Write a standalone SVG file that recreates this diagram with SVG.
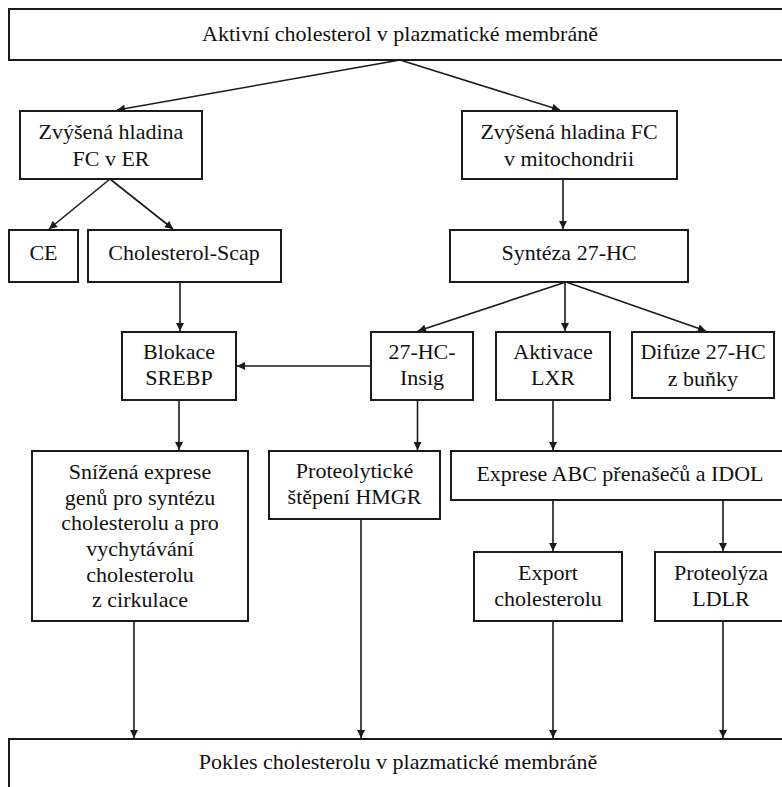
<svg xmlns="http://www.w3.org/2000/svg" width="782" height="787" viewBox="0 0 782 787">
<style>
  .box { fill: #ffffff; stroke: #1a1a1a; stroke-width: 2; }
  .t { font-family: 'Liberation Serif', 'Tinos', 'DejaVu Serif', serif; font-size: 22px; fill: #111; text-anchor: middle; }
  .c { stroke: #1a1a1a; stroke-width: 1.6; fill: none; marker-end: url(#ah); }
</style>
<defs>
  <marker id="ah" viewBox="0 0 10 10" refX="10" refY="5" markerWidth="9" markerHeight="8" markerUnits="userSpaceOnUse" orient="auto">
    <path d="M0,0 L10,5 L0,10 z" fill="#1a1a1a"/>
  </marker>
</defs>
<rect width="782" height="787" fill="#ffffff"/>
<g id="connectors">
  <line class="c" x1="400" y1="60" x2="117" y2="110"/>
  <line class="c" x1="400" y1="60" x2="560" y2="110"/>
  <line class="c" x1="110" y1="179" x2="49" y2="229"/>
  <line class="c" x1="110" y1="179" x2="173" y2="229"/>
  <line class="c" x1="563" y1="179" x2="563" y2="229"/>
  <line class="c" x1="180" y1="282" x2="180" y2="331"/>
  <line class="c" x1="566" y1="282" x2="418" y2="331"/>
  <line class="c" x1="565" y1="282" x2="565" y2="331"/>
  <line class="c" x1="566" y1="282" x2="706" y2="331"/>
  <line class="c" x1="371" y1="366" x2="237" y2="366"/>
  <line class="c" x1="179" y1="400" x2="179" y2="450"/>
  <line class="c" x1="417.5" y1="400" x2="417.5" y2="450"/>
  <line class="c" x1="553" y1="400" x2="553" y2="450"/>
  <line class="c" x1="553" y1="500" x2="553" y2="551"/>
  <line class="c" x1="723" y1="500" x2="723" y2="551"/>
  <line class="c" x1="134" y1="621" x2="134" y2="738"/>
  <line class="c" x1="361" y1="519" x2="361" y2="738"/>
  <line class="c" x1="553" y1="621" x2="553" y2="738"/>
  <line class="c" x1="723" y1="621" x2="723" y2="738"/>
</g>
<g id="n-top">
  <rect class="box" x="9" y="9" width="800" height="51"/>
  <text class="t" x="400" y="41" font-family="Liberation Serif, serif">Aktivní cholesterol v plazmatické membráně</text>
</g>
<g id="n-fcer">
  <rect class="box" x="20" y="111" width="182" height="68"/>
  <text class="t" x="111" y="139">Zvýšená hladina</text>
  <text class="t" x="111" y="166">FC v ER</text>
</g>
<g id="n-fcmito">
  <rect class="box" x="462" y="111" width="215" height="68"/>
  <text class="t" x="569" y="139">Zvýšená hladina FC</text>
  <text class="t" x="569" y="166">v mitochondrii</text>
</g>
<g id="n-ce">
  <rect class="box" x="9" y="230" width="69" height="52"/>
  <text class="t" x="43.5" y="260">CE</text>
</g>
<g id="n-scap">
  <rect class="box" x="88" y="230" width="193" height="52"/>
  <text class="t" x="184" y="260">Cholesterol-Scap</text>
</g>
<g id="n-syn">
  <rect class="box" x="450" y="230" width="238" height="52"/>
  <text class="t" x="569" y="260">Syntéza 27-HC</text>
</g>
<g id="n-blok">
  <rect class="box" x="122" y="332" width="114" height="68"/>
  <text class="t" x="179" y="359">Blokace</text>
  <text class="t" x="179" y="385">SREBP</text>
</g>
<g id="n-insig">
  <rect class="box" x="371" y="332" width="102" height="68"/>
  <text class="t" x="422" y="359">27-HC-</text>
  <text class="t" x="422" y="385">Insig</text>
</g>
<g id="n-lxr">
  <rect class="box" x="496" y="332" width="114" height="68"/>
  <text class="t" x="553" y="359">Aktivace</text>
  <text class="t" x="553" y="385">LXR</text>
</g>
<g id="n-dif">
  <rect class="box" x="632" y="332" width="142" height="66"/>
  <text class="t" x="703" y="359">Difúze 27-HC</text>
  <text class="t" x="703" y="386">z buňky</text>
</g>
<g id="n-sniz">
  <rect class="box" x="32" y="451" width="216" height="170"/>
  <text class="t" x="140" y="479">Snížená exprese</text>
  <text class="t" x="140" y="505">genů pro syntézu</text>
  <text class="t" x="140" y="530">cholesterolu a pro</text>
  <text class="t" x="140" y="556">vychytávání</text>
  <text class="t" x="140" y="582">cholesterolu</text>
  <text class="t" x="140" y="607">z cirkulace</text>
</g>
<g id="n-prot">
  <rect class="box" x="269" y="451" width="171" height="68"/>
  <text class="t" x="354.5" y="478">Proteolytické</text>
  <text class="t" x="354.5" y="504">štěpení HMGR</text>
</g>
<g id="n-expr">
  <rect class="box" x="451" y="451" width="350" height="49"/>
  <text class="t" x="620" y="481">Exprese ABC přenašečů a IDOL</text>
</g>
<g id="n-export">
  <rect class="box" x="474" y="552" width="148" height="69"/>
  <text class="t" x="548" y="580">Export</text>
  <text class="t" x="548" y="606">cholesterolu</text>
</g>
<g id="n-ldlr">
  <rect class="box" x="655" y="552" width="150" height="69"/>
  <text class="t" x="721" y="580">Proteolýza</text>
  <text class="t" x="721" y="606">LDLR</text>
</g>
<g id="n-bottom">
  <rect class="box" x="9" y="739" width="800" height="60"/>
  <text class="t" x="398" y="769">Pokles cholesterolu v plazmatické membráně</text>
</g>
</svg>
